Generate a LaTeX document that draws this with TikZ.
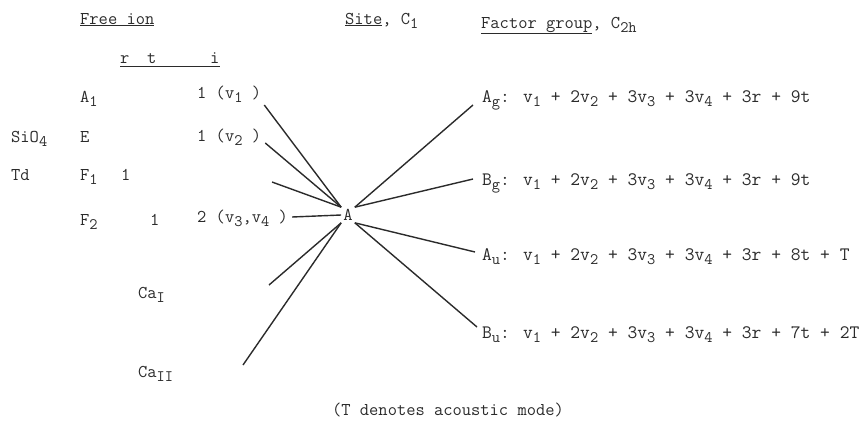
\documentclass[tikz,border=0pt]{standalone}
\usepackage{fontspec}
\usetikzlibrary{positioning}
\definecolor{InkGray}{HTML}{2B2B2B}
\newcommand{\lowsub}[1]{\raisebox{-0.55ex}{\fontsize{16}{17}\selectfont #1}}

\begin{document}
\begin{tikzpicture}[x=1pt,y=-1pt,
    every node/.style={font=\ttfamily\fontsize{18}{20}\selectfont,text=InkGray},
    lbl/.style={anchor=base west,inner sep=0pt},
    formula/.style={lbl,font=\ttfamily\fontsize{19}{21}\selectfont},
    link/.style={InkGray,line width=1.4pt}]
      \useasboundingbox (0,0) rectangle (866,421);
      % column heads
      \node[lbl] (freeion) at (80,24) {\underline{Free ion}};
      \node[lbl] (site) at (345,24) {\underline{Site}, C\lowsub{1}};
      \node[lbl] (factor) at (481,28) {\underline{Factor group}, C\lowsub{2h}};
      \node[lbl] (rcol) at (120,63) {r};
      \node[lbl] (tcol) at (147,63) {t};
      \node[lbl] (icol) at (210,63) {i};
      \draw[InkGray,line width=0.9pt] ([yshift=-3pt]rcol.base west) -- ([yshift=-3pt]icol.base east);
      % free ion species
      \node[lbl] (sio) at (11,142) {SiO\lowsub{4}};
      \node[lbl] (td) at (11,180) {Td};
      \node[lbl] (aone) at (80,102) {A\lowsub{1}};
      \node[lbl] (e) at (80,142) {E};
      \node[lbl] (fone) at (80,180) {F\lowsub{1}};
      \node[lbl] (ftwo) at (80,225) {F\lowsub{2}};
      \node[lbl] (fonecount) at (121,180) {1};
      \node[lbl] (ftwocount) at (150,225) {1};
      \node[lbl] (vone) at (197,98) {1 (v\lowsub{1} )};
      \node[lbl] (vtwo) at (197,141) {1 (v\lowsub{2} )};
      \node[lbl] (vthree) at (197,222) {2 (v\lowsub{3},v\lowsub{4} )};
      \node[lbl] (caone) at (138,298) {Ca\lowsub{I}};
      \node[lbl] (catwo) at (138,377) {Ca\lowsub{II}};
      % site
      \node[inner sep=2pt] (A) at (348,215) {A};
      \coordinate (ffree) at (272,182);
      \coordinate (cafree) at (269,285);
      \coordinate (cbfree) at (243,365);
      % factor group
      \node[formula] (ag) at (482,102) {A\lowsub{g}: v\lowsub{1} + 2v\lowsub{2} + 3v\lowsub{3} + 3v\lowsub{4} + 3r + 9t};
      \node[formula] (bg) at (482,185) {B\lowsub{g}: v\lowsub{1} + 2v\lowsub{2} + 3v\lowsub{3} + 3v\lowsub{4} + 3r + 9t};
      \node[formula] (au) at (482,260) {A\lowsub{u}: v\lowsub{1} + 2v\lowsub{2} + 3v\lowsub{3} + 3v\lowsub{4} + 3r + 8t + T};
      \node[formula] (bu) at (482,338) {B\lowsub{u}: v\lowsub{1} + 2v\lowsub{2} + 3v\lowsub{3} + 3v\lowsub{4} + 3r + 7t + 2T};
      \node[anchor=base] (note) at (448,415) {(T denotes acoustic mode)};
      % correlation lines
      \draw[link] ([shift={(3,7)}]vone.base east) -- (A.north west);
      \draw[link] ([shift={(4,2)}]vtwo.base east) -- (A.north west);
      \draw[link] (ffree) -- (A.north west);
      \draw[link] ([shift={(4,-5)}]vthree.base east) -- (A.west);
      \draw[link] (cafree) -- (A.south west);
      \draw[link] (cbfree) -- (A.south west);
      \draw[link] (A.north east) -- ([shift={(-9,3)}]ag.base west);
      \draw[link] (A.north east) -- ([shift={(-9,-6)}]bg.base west);
      \draw[link] (A.south east) -- ([shift={(-7,-8)}]au.base west);
      \draw[link] (A.south east) -- ([shift={(-5,-11)}]bu.base west);
\end{tikzpicture}
\end{document}
